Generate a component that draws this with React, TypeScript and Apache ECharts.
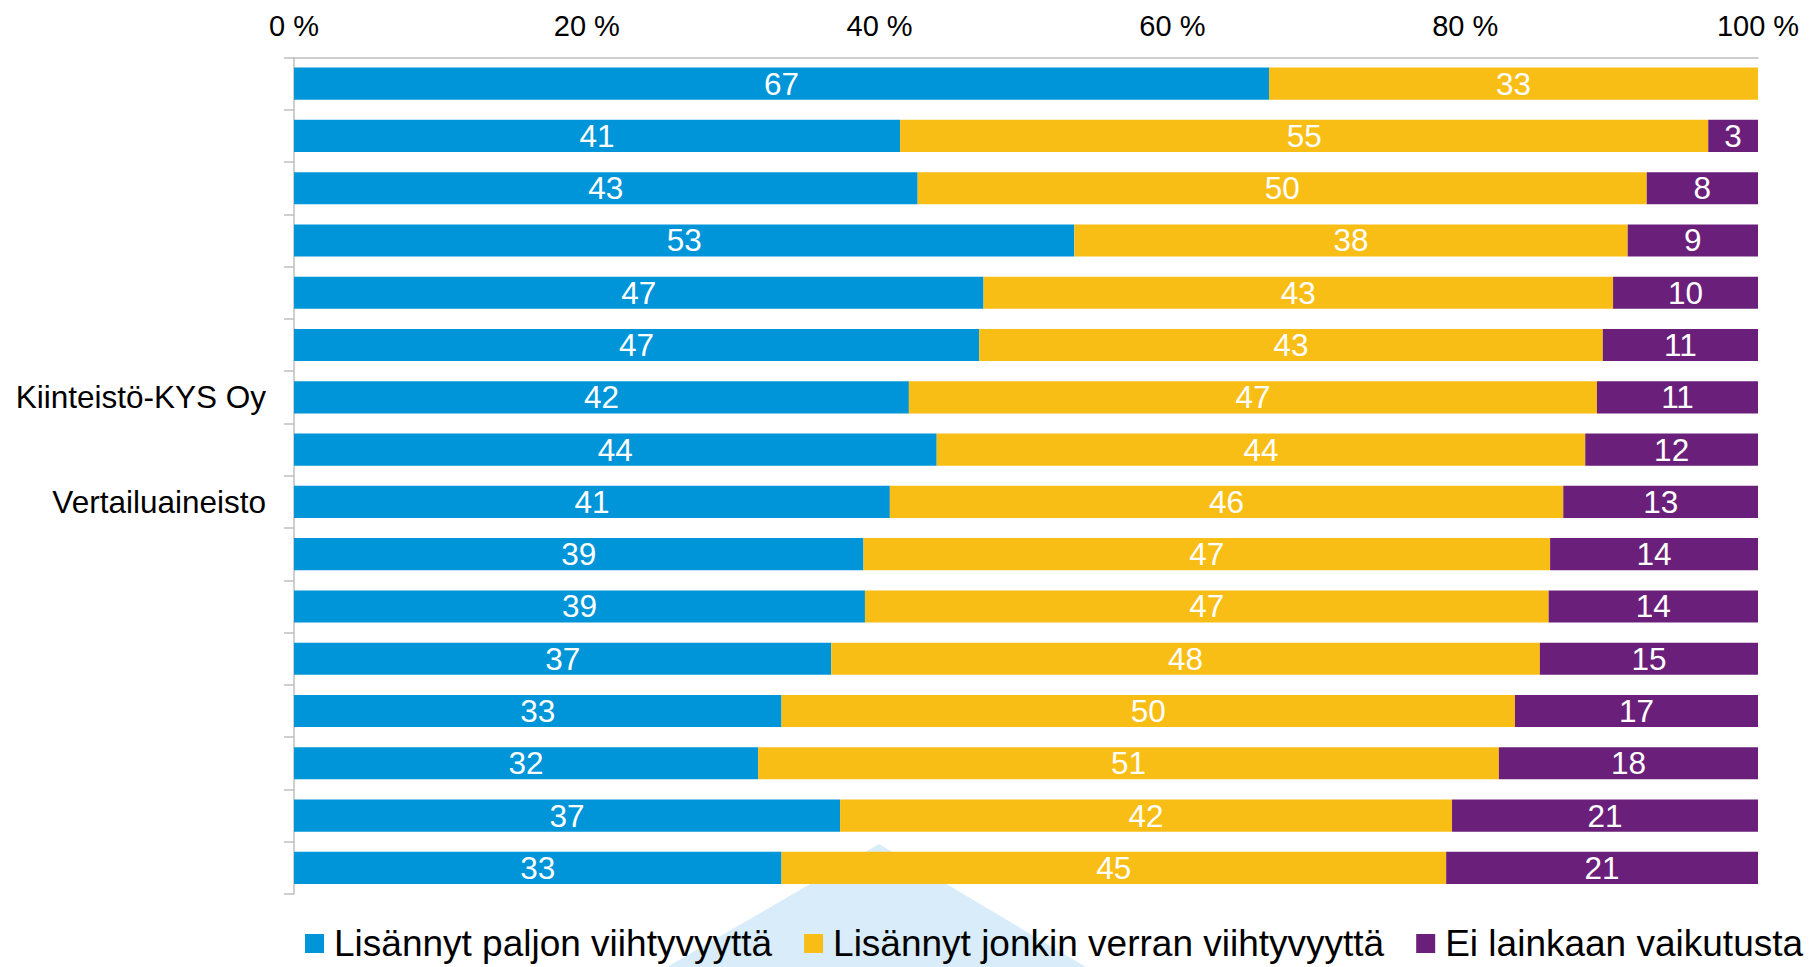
import React, { useEffect, useRef } from "react";
import * as echarts from "echarts";

const categories = ["", "", "", "", "", "", "Kiinteistö-KYS Oy", "", "Vertailuaineisto", "", "", "", "", "", "", ""];
const seriesNames = ["Lisännyt paljon viihtyvyyttä", "Lisännyt jonkin verran viihtyvyyttä", "Ei lainkaan vaikutusta"];
const paljon = [66.6, 41.4, 42.6, 53.3, 47.1, 46.8, 42.0, 43.9, 40.7, 38.9, 39.0, 36.7, 33.3, 31.7, 37.3, 33.3];
const jonkin = [33.4, 55.2, 49.8, 37.8, 43.0, 42.6, 47.0, 44.3, 46.0, 46.9, 46.7, 48.4, 50.1, 50.6, 41.8, 45.4];
const eiLainkaan = [0, 3.4, 7.6, 8.9, 9.9, 10.6, 11.0, 11.8, 13.3, 14.2, 14.3, 14.9, 16.6, 17.7, 20.9, 21.3];
const colors = ["#0095D9", "#F9BE16", "#6A1F7A"];

const FONT = "'Liberation Sans', Arial, Helvetica, sans-serif";

export default function App() {
  const ref = useRef<HTMLDivElement>(null);
  useEffect(() => {
    if (!ref.current) return;
    const chart = echarts.init(ref.current, null, { renderer: "svg" });
    const values = [paljon, jonkin, eiLainkaan];
    chart.setOption({
      animation: false,
      backgroundColor: "#ffffff",
      textStyle: { fontFamily: FONT },
      grid: { left: 294, right: 58, top: 57.5, bottom: 73, containLabel: false },
      graphic: [
        {
          type: "polygon",
          z: 0,
          shape: { points: [[879, 844], [667, 967], [1086, 967]] },
          style: { fill: "#d8edf9" },
          silent: true,
        },
      ],
      legend: {
        left: 305,
        right: 0,
        top: 925,
        padding: 0,
        itemWidth: 19,
        itemHeight: 19,
        itemGap: 32,
        icon: "rect",
        data: seriesNames,
        textStyle: { fontSize: 37, color: "#000", fontFamily: FONT, padding: [0, 0, 0, 5] },
      },
      xAxis: {
        type: "value",
        position: "top",
        min: 0,
        max: 100,
        interval: 20,
        axisLine: { show: true, lineStyle: { color: "#BFBFBF", width: 1.5 } },
        axisTick: { show: false },
        splitLine: { show: false },
        axisLabel: { formatter: "{value} %", fontSize: 29, color: "#000", margin: 17, fontFamily: FONT },
      },
      yAxis: {
        type: "category",
        inverse: true,
        data: categories,
        axisLine: { show: true, lineStyle: { color: "#BFBFBF", width: 1.5 } },
        axisTick: { show: true, length: 10, interval: 0, lineStyle: { color: "#BFBFBF", width: 1.5 } },
        axisLabel: { interval: 0, fontSize: 31.5, color: "#000", margin: 28, fontFamily: FONT },
      },
      series: seriesNames.map((name, i) => ({
        name,
        type: "bar",
        stack: "total",
        barCategoryGap: "38.5%",
        itemStyle: { color: colors[i] },
        label: {
          show: true,
          position: "inside",
          color: "#fff",
          fontSize: 31.5,
          fontFamily: FONT,
          formatter: (p: any) => (p.value > 0 ? String(Math.round(p.value)) : ""),
        },
        data: values[i],
      })),
    });
    return () => chart.dispose();
  }, []);
  return <div ref={ref} style={{ position: "fixed", left: 0, top: 0, width: 1816, height: 967 }} />;
}
